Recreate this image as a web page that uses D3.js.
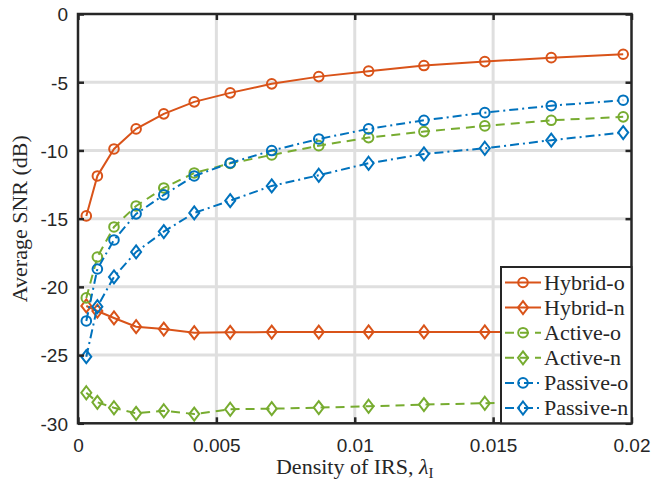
<!DOCTYPE html>
<html>
<head>
<meta charset="utf-8">
<script src="https://cdn.jsdelivr.net/npm/d3@7"></script>
<style>
    body { margin: 0; background: #fff; }
    svg { display: block; }
</style>
</head>
<body>
<svg id="chart-svg" width="652" height="483"></svg>
<script>
// x positions (IRS density)
const density = [0.0003, 0.0007, 0.0013, 0.0021, 0.0031, 0.0042, 0.0055, 0.0070, 0.0087, 0.0105, 0.0125, 0.0147, 0.0171, 0.0197];

// average SNR in dB
const hybridO = [-14.80, -11.87, -9.89, -8.42, -7.32, -6.44, -5.78, -5.12, -4.59, -4.19, -3.78, -3.49, -3.20, -2.95];
const hybridN = [-21.40, -21.77, -22.28, -22.92, -23.09, -23.36, -23.33, -23.31, -23.31, -23.30, -23.30, -23.30, -23.30, -23.30];
const activeO = [-20.81, -17.81, -15.61, -14.07, -12.75, -11.65, -10.95, -10.33, -9.65, -9.06, -8.62, -8.20, -7.79, -7.54];
const activeN = [-27.76, -28.46, -28.86, -29.27, -29.08, -29.32, -28.97, -28.93, -28.85, -28.75, -28.63, -28.53, -28.47, -28.42];
const passiveO = [-22.50, -18.69, -16.56, -14.65, -13.26, -11.87, -10.92, -10.01, -9.16, -8.42, -7.79, -7.23, -6.72, -6.32];
const passiveN = [-25.12, -21.45, -19.27, -17.44, -15.95, -14.58, -13.68, -12.60, -11.82, -10.94, -10.26, -9.84, -9.25, -8.69];

const seriesNames = ["Hybrid-o", "Hybrid-n", "Active-o", "Active-n", "Passive-o", "Passive-n"];
const xTicks = [0, 0.005, 0.01, 0.015, 0.02];
const xTickLabels = ["0", "0.005", "0.01", "0.015", "0.02"];
const yTicks = [0, -5, -10, -15, -20, -25, -30];
const yTickLabels = ["0", "-5", "-10", "-15", "-20", "-25", "-30"];

const colors = { hybrid: "#D95319", active: "#77AC30", passive: "#0072BD" };
const dashes = { hybrid: null, active: "9,6", passive: "9,4,2,4" };

const series = [
    { name: seriesNames[0], values: hybridO, color: colors.hybrid, dash: dashes.hybrid, marker: "o" },
    { name: seriesNames[1], values: hybridN, color: colors.hybrid, dash: dashes.hybrid, marker: "d" },
    { name: seriesNames[2], values: activeO, color: colors.active, dash: dashes.active, marker: "o" },
    { name: seriesNames[3], values: activeN, color: colors.active, dash: dashes.active, marker: "d" },
    { name: seriesNames[4], values: passiveO, color: colors.passive, dash: dashes.passive, marker: "o" },
    { name: seriesNames[5], values: passiveN, color: colors.passive, dash: dashes.passive, marker: "d" },
];

const box = { left: 78, right: 631.5, top: 14, bottom: 423.3 };
const serifFont = "'Liberation Serif', 'Times New Roman', 'DejaVu Serif', serif";
const sansFont = "'Liberation Sans', Arial, Helvetica, sans-serif";
const axisColor = "#262626";

const svg = d3.select("#chart-svg");

const scale = {
    x: d3.scaleLinear([0, 0.02], [box.left, box.right]),
    y: d3.scaleLinear([-30, 0], [box.bottom, box.top]),
};

// grid
const grid = svg.append("g").attr("stroke", "#dfdfdf").attr("stroke-width", 3);
xTicks.slice(1, -1).forEach(t => {
    grid.append("line").attr("x1", scale.x(t)).attr("x2", scale.x(t))
        .attr("y1", box.top).attr("y2", box.bottom);
});
yTicks.slice(1, -1).forEach(t => {
    grid.append("line").attr("y1", scale.y(t)).attr("y2", scale.y(t))
        .attr("x1", box.left).attr("x2", box.right);
});

const diamond = (g, cx, cy, color) => {
    g.append("path")
        .attr("d", `M${cx},${cy - 6.5}L${cx + 5},${cy}L${cx},${cy + 6.5}L${cx - 5},${cy}Z`)
        .attr("fill", "none").attr("stroke", color).attr("stroke-width", 2);
};
const circle = (g, cx, cy, color) => {
    g.append("circle").attr("cx", cx).attr("cy", cy).attr("r", 4.8)
        .attr("fill", "none").attr("stroke", color).attr("stroke-width", 2);
};
const drawMarker = (g, m, cx, cy, color) => m === "o" ? circle(g, cx, cy, color) : diamond(g, cx, cy, color);

const line = d3.line().x(d => scale.x(d[0])).y(d => scale.y(d[1]));

const plot = svg.append("g");
series.forEach(s => {
    const pts = density.map((x, i) => [x, s.values[i]]);
    const g = plot.append("g");
    g.append("path")
        .attr("d", line(pts))
        .attr("fill", "none")
        .attr("stroke", s.color)
        .attr("stroke-width", 2)
        .attr("stroke-dasharray", s.dash);
    pts.forEach(p => drawMarker(g, s.marker, scale.x(p[0]), scale.y(p[1]), s.color));
});

// axes box with inward ticks on all sides
const axisX = svg.append("g")
    .attr("transform", `translate(0, ${box.bottom})`)
    .call(d3.axisBottom(scale.x).tickValues(xTicks).tickSizeInner(-6).tickSizeOuter(0)
        .tickFormat((d, i) => xTickLabels[i]));
const axisXTop = svg.append("g")
    .attr("transform", `translate(0, ${box.top})`)
    .call(d3.axisTop(scale.x).tickValues(xTicks).tickSizeInner(-6).tickSizeOuter(0).tickFormat(""));
const axisY = svg.append("g")
    .attr("transform", `translate(${box.left}, 0)`)
    .call(d3.axisLeft(scale.y).tickValues(yTicks).tickSizeInner(-6).tickSizeOuter(0)
        .tickFormat((d, i) => yTickLabels[i]));
const axisYRight = svg.append("g")
    .attr("transform", `translate(${box.right}, 0)`)
    .call(d3.axisRight(scale.y).tickValues(yTicks).tickSizeInner(-6).tickSizeOuter(0).tickFormat(""));

[axisX, axisXTop, axisY, axisYRight].forEach(a => {
    a.attr("font-family", sansFont).attr("font-size", 19);
    a.select(".domain").remove();
    a.selectAll(".tick line").attr("stroke", axisColor).attr("stroke-width", 2.5);
    a.selectAll(".tick text").attr("fill", axisColor);
});
axisX.selectAll(".tick text").attr("dy", "0.71em").attr("y", 15);
axisY.selectAll(".tick text").attr("dy", "0.36em").attr("x", -10);

svg.append("rect")
    .attr("x", box.left).attr("y", box.top)
    .attr("width", box.right - box.left).attr("height", box.bottom - box.top)
    .attr("fill", "none").attr("stroke", axisColor).attr("stroke-width", 2.5);

// axis labels
const xLabel = svg.append("text")
    .attr("font-family", serifFont).attr("fill", axisColor)
    .attr("x", (box.left + box.right) / 2).attr("y", 474)
    .attr("text-anchor", "middle").attr("font-size", 22);
xLabel.append("tspan").text("Density of IRS, ");
xLabel.append("tspan").attr("font-style", "italic").text("λ");
xLabel.append("tspan").attr("font-size", 15).attr("dy", 4).text("I");

svg.append("text")
    .attr("font-family", serifFont).attr("fill", axisColor)
    .attr("transform", `translate(27, ${(box.top + box.bottom) / 2}) rotate(-90)`)
    .attr("text-anchor", "middle").attr("font-size", 22)
    .text("Average SNR (dB)");

// legend
const legend = svg.append("g").attr("id", "legend");
legend.append("rect")
    .attr("x", 501).attr("y", 267)
    .attr("width", box.right - 501).attr("height", box.bottom - 267)
    .attr("fill", "#fff").attr("stroke", axisColor).attr("stroke-width", 2);

series.forEach((s, i) => {
    const y = 282.5 + i * 25.1;
    const g = legend.append("g");
    g.append("line")
        .attr("x1", 505).attr("x2", 541).attr("y1", y).attr("y2", y)
        .attr("stroke", s.color).attr("stroke-width", 2)
        .attr("stroke-dasharray", s.dash);
    drawMarker(g, s.marker, 523, y, s.color);
    g.append("text")
        .attr("font-family", serifFont).attr("fill", axisColor)
        .attr("x", 544).attr("y", y + 7)
        .attr("font-size", 22)
        .text(s.name);
});
</script>
</body>
</html>
